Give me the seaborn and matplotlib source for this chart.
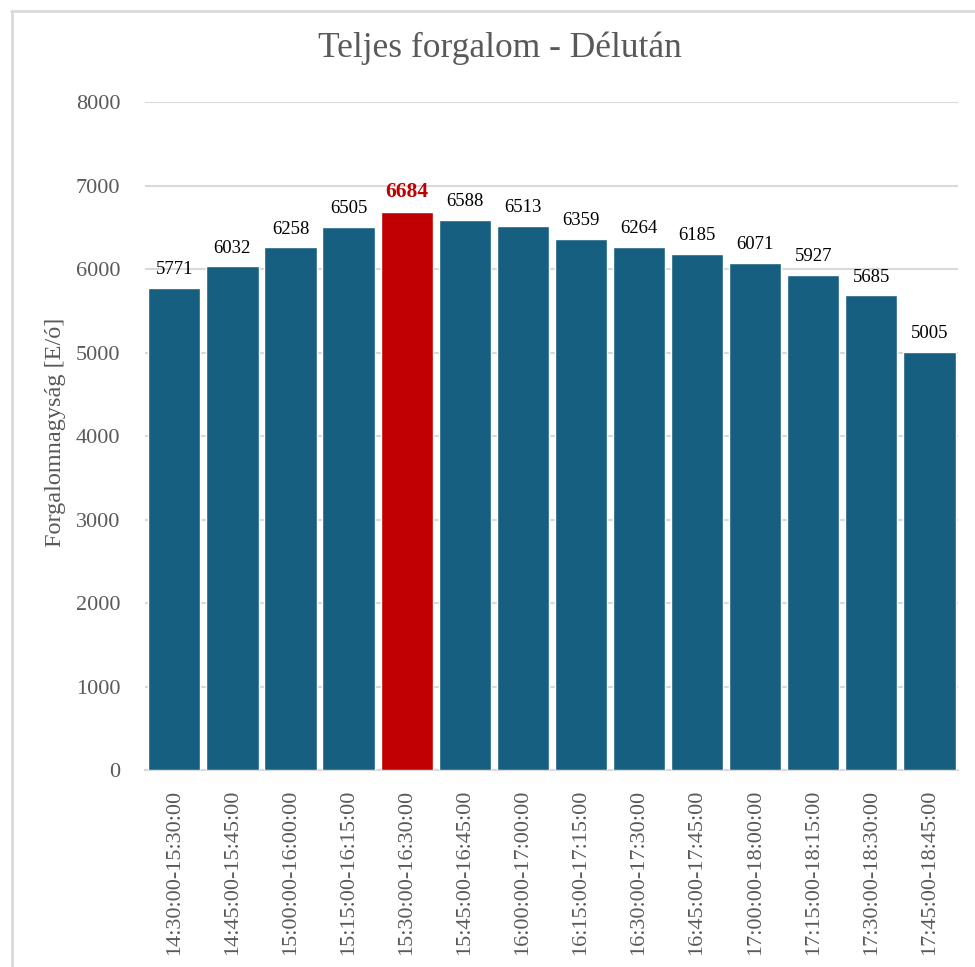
import matplotlib
matplotlib.use("Agg")
import matplotlib.pyplot as plt
from matplotlib.lines import Line2D
import seaborn as sns
import pandas as pd

intervals = [
    "14:30:00-15:30:00", "14:45:00-15:45:00", "15:00:00-16:00:00",
    "15:15:00-16:15:00", "15:30:00-16:30:00", "15:45:00-16:45:00",
    "16:00:00-17:00:00", "16:15:00-17:15:00", "16:30:00-17:30:00",
    "16:45:00-17:45:00", "17:00:00-18:00:00", "17:15:00-18:15:00",
    "17:30:00-18:30:00", "17:45:00-18:45:00",
]
traffic = [5771, 6032, 6258, 6505, 6684, 6588, 6513, 6359, 6264, 6185, 6071, 5927, 5685, 5005]
y_ticks = [0, 1000, 2000, 3000, 4000, 5000, 6000, 7000, 8000]

title = "Teljes forgalom - Délután"
y_label = "Forgalomnagyság [E/ó]"

sns.set_theme(style="white")
plt.rcParams["font.family"] = ["Liberation Serif", "DejaVu Serif"]

BLUE = "#175F80"
RED = "#C00000"
GREY = "#595959"
GRID = "#D9D9D9"

peak = max(traffic)
colors = [RED if v == peak else BLUE for v in traffic]

df = pd.DataFrame({"interval": intervals, "traffic": traffic})

fig = plt.figure(figsize=(9.75, 9.67), dpi=100)
ax = fig.add_axes([0.149, 0.2037, 0.834, 0.6908])

sns.barplot(data=df, x="interval", y="traffic", hue="interval",
            palette=colors, legend=False, width=0.9, saturation=1,
            ax=ax, zorder=3)

ax.set_ylim(0, 8000)
ax.set_yticks(y_ticks)
ax.set_yticklabels([str(t) for t in y_ticks], fontsize=16, color=GREY)
ax.set_xlim(-0.5, len(intervals) - 0.5)
ax.tick_params(axis="x", labelrotation=90, labelsize=16, labelcolor=GREY, length=0, pad=14)
ax.tick_params(axis="y", length=0, pad=18)
ax.yaxis.grid(True, color=GRID, linewidth=1.5, zorder=0)
ax.set_axisbelow(True)
for side in ["top", "right", "left"]:
    ax.spines[side].set_visible(False)
ax.spines["bottom"].set_color(GRID)
ax.spines["bottom"].set_linewidth(1.5)

ax.set_xlabel("")
ax.set_ylabel(y_label, fontsize=17.5, color=GREY, va="center")
ax.yaxis.set_label_coords(-0.111, 0.505)

fig.text(500 / 975, 1 - 48 / 967, title, fontsize=25.5, color=GREY,
         ha="center", va="center")

# value labels above each bar
for container in ax.containers:
    for bar in container:
        h = bar.get_height()
        is_peak = h == peak
        ax.annotate(f"{int(h)}", (bar.get_x() + bar.get_width() / 2, h),
                    xytext=(0, 7), textcoords="offset points",
                    ha="center", va="bottom",
                    fontsize=15.5 if is_peak else 13.5,
                    fontweight="bold" if is_peak else "normal",
                    color=RED if is_peak else "black", zorder=4)

# chart frame
fig.add_artist(Line2D([11 / 975, 1.0], [1 - 10.5 / 967, 1 - 10.5 / 967],
                      color=GRID, linewidth=2, transform=fig.transFigure))
fig.add_artist(Line2D([11.5 / 975, 11.5 / 975], [0, 1 - 10.5 / 967],
                      color=GRID, linewidth=2, transform=fig.transFigure))

fig.savefig("out.png", dpi=100, facecolor="white")
